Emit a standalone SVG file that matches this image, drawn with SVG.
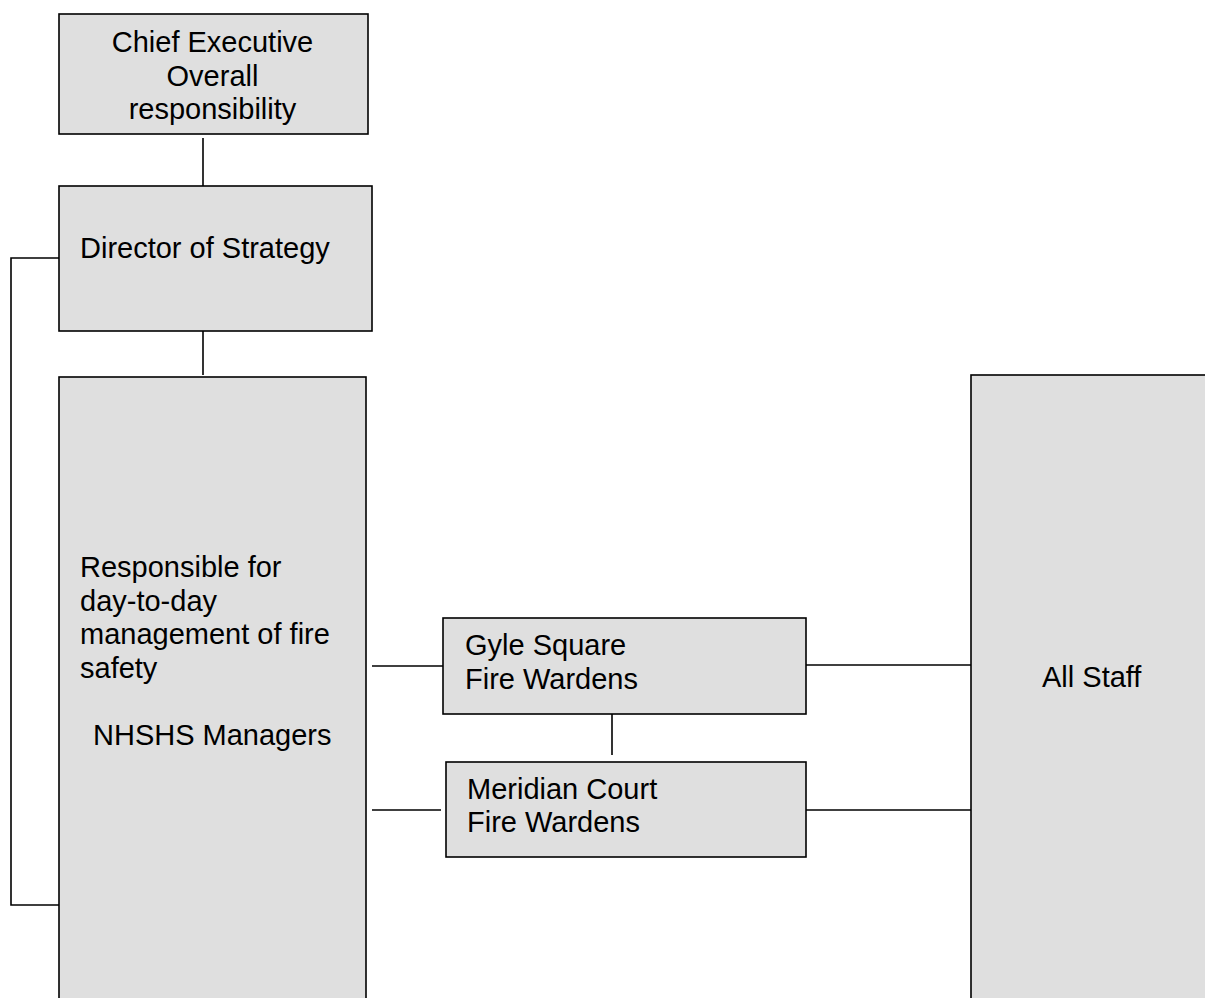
<svg xmlns="http://www.w3.org/2000/svg" width="1205" height="998" viewBox="0 0 1205 998">
<style>
.box{fill:#dfdfdf;stroke:#000;stroke-width:1.6}
.t{font-family:"Liberation Sans",Arial,sans-serif;font-size:29px;fill:#000}
.c{fill:none;stroke:#000;stroke-width:1.6}
</style>
<rect width="1205" height="998" fill="#fff"/>
<g id="connectors">
<line class="c" x1="203" y1="138" x2="203" y2="186"/>
<line class="c" x1="203" y1="331" x2="203" y2="375"/>
<polyline class="c" points="63,258 11,258 11,905 59,905"/>
<line class="c" x1="372" y1="666" x2="443" y2="666"/>
<line class="c" x1="372" y1="810" x2="441" y2="810"/>
<line class="c" x1="612" y1="714" x2="612" y2="755"/>
<line class="c" x1="806" y1="665" x2="971" y2="665"/>
<line class="c" x1="806" y1="810" x2="971" y2="810"/>
</g>
<g id="chief">
<rect class="box" x="59" y="14" width="309" height="120"/>
<text class="t" x="212.5" y="52" text-anchor="middle">Chief Executive</text>
<text class="t" x="212.5" y="85.5" text-anchor="middle">Overall</text>
<text class="t" x="212.5" y="119" text-anchor="middle">responsibility</text>
</g>
<g id="director">
<rect class="box" x="59" y="186" width="313" height="145"/>
<text class="t" x="80" y="258">Director of Strategy</text>
</g>
<g id="managers">
<rect class="box" x="59" y="377" width="307" height="630"/>
<text class="t" x="80" y="577">Responsible for</text>
<text class="t" x="80" y="610.5">day-to-day</text>
<text class="t" x="80" y="644">management of fire</text>
<text class="t" x="80" y="677.5">safety</text>
<text class="t" x="93" y="745">NHSHS Managers</text>
</g>
<g id="gyle">
<rect class="box" x="443" y="618" width="363" height="96"/>
<text class="t" x="465" y="655">Gyle Square</text>
<text class="t" x="465" y="689">Fire Wardens</text>
</g>
<g id="meridian">
<rect class="box" x="446" y="762" width="360" height="95"/>
<text class="t" x="467" y="799">Meridian Court</text>
<text class="t" x="467" y="832">Fire Wardens</text>
</g>
<g id="allstaff">
<rect class="box" x="971" y="375" width="250" height="640"/>
<text class="t" x="1042" y="687">All Staff</text>
</g>
</svg>
